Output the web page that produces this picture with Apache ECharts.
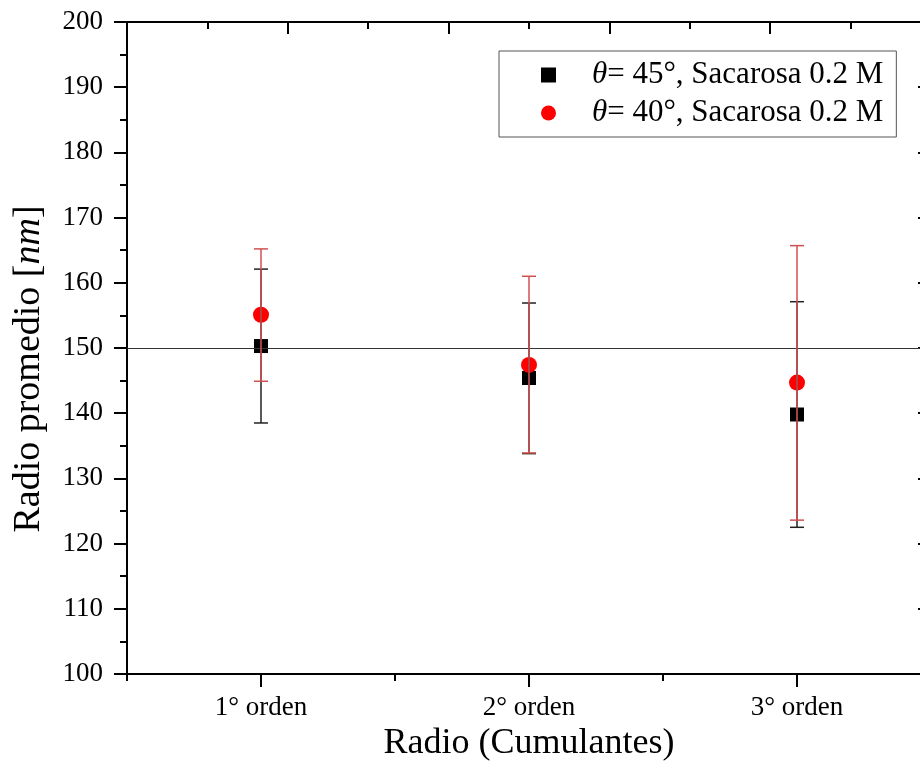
<!DOCTYPE html>
<html>
<head>
<meta charset="utf-8">
<script src="https://cdn.jsdelivr.net/npm/echarts@6/dist/echarts.min.js"></script>
<style>html,body{margin:0;padding:0;background:#fff}#c{width:920px;height:782px}</style>
</head>
<body>
<div id="c"></div>
<script>
var categories = ['1° orden', '2° orden', '3° orden'];
var name45 = 'θ= 45°, Sacarosa 0.2 M';
var name40 = 'θ= 40°, Sacarosa 0.2 M';
var r45 = [150.3, 145.4, 139.8];
var r45Low = [138.5, 133.8, 122.5];
var r45High = [162.1, 156.9, 157.1];
var r40 = [155.1, 147.4, 144.7];
var r40Low = [144.9, 133.9, 123.6];
var r40High = [165.2, 161.0, 165.7];
var yTicks = {min: 100, max: 200, interval: 10};
var refLine = 150;

var FONT = "'Liberation Serif', 'Times New Roman', serif";

function errData(low, high) {
  return categories.map(function (c, i) { return [i, low[i], high[i]]; });
}
function errRender(color) {
  return function (params, api) {
    var x = api.value(0);
    var lo = api.coord([x, api.value(1)]);
    var hi = api.coord([x, api.value(2)]);
    var hw = 7;
    var style = {stroke: color, lineWidth: 1.5, fill: null};
    return {
      type: 'group',
      children: [
        {type: 'line', shape: {x1: hi[0], y1: hi[1], x2: lo[0], y2: lo[1]}, style: style},
        {type: 'line', shape: {x1: hi[0] - hw, y1: hi[1], x2: hi[0] + hw, y2: hi[1]}, style: style},
        {type: 'line', shape: {x1: lo[0] - hw, y1: lo[1], x2: lo[0] + hw, y2: lo[1]}, style: style}
      ]
    };
  };
}

var chart = echarts.init(document.getElementById('c'), null, {renderer: 'canvas'});
var axisLine = {show: true, lineStyle: {color: '#000', width: 2}};
chart.setOption({
  animation: false,
  backgroundColor: '#fff',
  grid: {left: 127, top: 22, width: 804, height: 652, containLabel: false, outerBoundsMode: 'none'},
  legend: {
    orient: 'vertical',
    left: 499, top: 51,
    padding: [8, 13, 8, 42],
    itemGap: 6,
    itemWidth: 15, itemHeight: 15,
    borderColor: '#555', borderWidth: 1,
    data: [
      {name: name45, icon: 'rect', itemStyle: {color: '#000', opacity: 1}},
      {name: name40, icon: 'circle', itemStyle: {color: '#ff0000', opacity: 1}}
    ],
    formatter: function (n) { return n.replace('θ', '{i|θ}'); },
    textStyle: {
      fontFamily: FONT, fontSize: 31, color: '#000', lineHeight: 32,
      padding: [0, 0, 0, 31],
      rich: {i: {fontFamily: FONT, fontSize: 31, fontStyle: 'italic', color: '#000', lineHeight: 32}}
    }
  },
  xAxis: [
    {
      type: 'category', data: categories, position: 'bottom',
      boundaryGap: true,
      axisLine: axisLine,
      axisTick: {show: true, alignWithLabel: true, length: 13, inside: false, lineStyle: {color: '#000', width: 2}},
      axisLabel: {fontFamily: FONT, fontSize: 27, color: '#000', margin: 20},
      splitLine: {show: false},
      name: 'Radio (Cumulantes)', nameLocation: 'middle', nameGap: 46,
      nameTextStyle: {fontFamily: FONT, fontSize: 36, color: '#000'}
    },
    {
      type: 'value', position: 'top', min: 0, max: 5, interval: 1,
      axisLine: axisLine,
      axisTick: {show: true, inside: true, length: 12, lineStyle: {color: '#000', width: 2}},
      minorTick: {show: true, splitNumber: 2, length: 7, lineStyle: {color: '#000', width: 2}},
      axisLabel: {show: false}, splitLine: {show: false}
    },
    {
      type: 'category', data: categories, position: 'bottom',
      boundaryGap: true,
      axisLine: {show: false},
      axisTick: {show: true, alignWithLabel: false, length: 7, inside: false, lineStyle: {color: '#000', width: 2}},
      axisLabel: {show: false}, splitLine: {show: false}
    }
  ],
  yAxis: [
    {
      type: 'value', min: yTicks.min, max: yTicks.max, interval: yTicks.interval, position: 'left',
      axisLine: axisLine,
      axisTick: {show: true, inside: false, length: 13, lineStyle: {color: '#000', width: 2}},
      minorTick: {show: true, splitNumber: 2, length: 7, lineStyle: {color: '#000', width: 2}},
      axisLabel: {fontFamily: FONT, fontSize: 27, color: '#000', margin: 24},
      splitLine: {show: false},
      name: 'Radio promedio [{i|nm}]', nameLocation: 'middle', nameGap: 79, nameRotate: 90,
      nameTextStyle: {fontFamily: FONT, fontSize: 38, color: '#000', padding: [0, 42, 0, 0],
        rich: {i: {fontFamily: FONT, fontSize: 38, fontStyle: 'italic', color: '#000'}}}
    },
    {
      type: 'value', min: yTicks.min, max: yTicks.max, interval: yTicks.interval, position: 'right',
      axisLine: axisLine,
      axisTick: {show: true, inside: true, length: 13, lineStyle: {color: '#000', width: 2}},
      minorTick: {show: true, splitNumber: 2, length: 7, lineStyle: {color: '#000', width: 2}},
      axisLabel: {show: false}, splitLine: {show: false}
    }
  ],
  series: [
    {
      name: name45, type: 'scatter', xAxisIndex: 0, yAxisIndex: 0,
      symbol: 'rect', symbolSize: 14, z: 2,
      itemStyle: {color: '#000', opacity: 1},
      data: r45,
      markLine: {
        silent: true, symbol: ['none', 'none'], label: {show: false},
        lineStyle: {color: '#333', width: 1, type: 'solid'},
        data: [{yAxis: refLine}]
      }
    },
    {
      name: name40, type: 'scatter', xAxisIndex: 0, yAxisIndex: 0,
      symbol: 'circle', symbolSize: 16, z: 3,
      itemStyle: {color: '#ff0000', opacity: 1},
      data: r40
    },
    {
      name: 'err45', type: 'custom', xAxisIndex: 0, yAxisIndex: 0, z: 4,
      renderItem: errRender('#222'),
      encode: {x: 0, y: [1, 2]},
      data: errData(r45Low, r45High)
    },
    {
      name: 'err40', type: 'custom', xAxisIndex: 0, yAxisIndex: 0, z: 5,
      renderItem: errRender('rgb(208,80,80)'),
      encode: {x: 0, y: [1, 2]},
      data: errData(r40Low, r40High)
    }
  ]
});
</script>
</body>
</html>
